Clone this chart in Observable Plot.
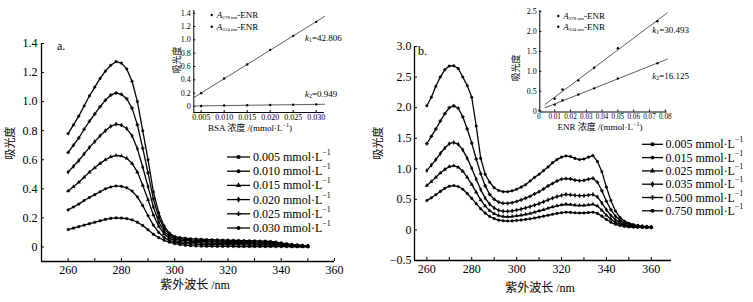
<!DOCTYPE html>
<html><head><meta charset="utf-8">
<script src="https://cdn.jsdelivr.net/npm/d3@7"></script>
<script src="https://cdn.jsdelivr.net/npm/@observablehq/plot@0.6"></script>
<style>
body{margin:0;background:#fff;}
#wrap{position:relative;width:753px;height:302px;overflow:hidden;background:#fff;}
#wrap svg{position:absolute;}
</style></head><body><div id="wrap"></div>
<script>
// ---------- DATA ----------
const wavelengthA = [260,262,264,266,268,270,272,274,276,278,280,282,284,286,288,290,292,294,296,298,300,302,304,306,308,310,312,314,316,318,320,322,324,326,328,330,332,334,336,338,340,342,344,346,348,350];
const concA = ["0.005","0.010","0.015","0.020","0.025","0.030"];
const absA_005 = [0.12,0.13,0.14,0.15,0.16,0.17,0.18,0.19,0.197,0.20,0.199,0.195,0.186,0.17,0.148,0.118,0.088,0.064,0.046,0.033,0.023,0.016,0.012,0.009,0.007,0.006,0.005,0.005,0.004,0.004,0.004,0.004,0.003,0.003,0.003,0.003,0.003,0.003,0.003,0.002,0.002,0.002,0.001,0.001,0.001,0.001];
const absA_010 = [0.255,0.275,0.295,0.32,0.34,0.36,0.38,0.40,0.413,0.42,0.417,0.407,0.385,0.345,0.285,0.215,0.15,0.10,0.066,0.045,0.033,0.027,0.023,0.021,0.019,0.018,0.017,0.016,0.016,0.015,0.015,0.014,0.014,0.014,0.013,0.013,0.013,0.012,0.012,0.011,0.009,0.007,0.006,0.005,0.004,0.003];
const absA_015 = [0.385,0.415,0.445,0.48,0.515,0.545,0.575,0.60,0.62,0.63,0.626,0.61,0.575,0.515,0.425,0.325,0.22,0.142,0.09,0.06,0.044,0.037,0.034,0.032,0.030,0.028,0.027,0.026,0.025,0.024,0.023,0.023,0.022,0.022,0.021,0.021,0.020,0.020,0.019,0.017,0.014,0.011,0.009,0.007,0.005,0.004];
const absA_020 = [0.515,0.555,0.595,0.64,0.685,0.725,0.765,0.80,0.83,0.845,0.838,0.815,0.765,0.675,0.55,0.415,0.275,0.172,0.108,0.072,0.054,0.047,0.044,0.041,0.039,0.037,0.036,0.035,0.034,0.033,0.032,0.031,0.030,0.030,0.029,0.028,0.027,0.027,0.025,0.023,0.019,0.015,0.012,0.009,0.007,0.006];
const absA_025 = [0.65,0.70,0.75,0.81,0.865,0.915,0.965,1.01,1.045,1.06,1.05,1.02,0.955,0.84,0.68,0.51,0.33,0.205,0.128,0.085,0.064,0.056,0.052,0.049,0.047,0.045,0.043,0.042,0.041,0.040,0.039,0.038,0.037,0.037,0.036,0.035,0.034,0.033,0.031,0.028,0.023,0.018,0.015,0.012,0.009,0.007];
const absA_030 = [0.78,0.84,0.90,0.97,1.04,1.10,1.16,1.21,1.25,1.275,1.265,1.225,1.14,1.00,0.80,0.60,0.38,0.235,0.145,0.095,0.072,0.064,0.060,0.057,0.055,0.053,0.051,0.050,0.049,0.048,0.047,0.046,0.045,0.044,0.043,0.042,0.041,0.040,0.038,0.034,0.028,0.022,0.018,0.014,0.011,0.009];

const wavelengthB = [260,262,264,266,268,270,272,274,276,278,280,282,284,286,288,290,292,294,296,298,300,302,304,306,308,310,312,314,316,318,320,322,324,326,328,330,332,334,336,338,340,342,344,346,348,350,352,354,356,358,360];
const concB = ["0.005","0.015","0.025","0.035","0.500","0.750"];
const absB_0015 = [0.48,0.525,0.575,0.63,0.68,0.715,0.725,0.71,0.665,0.595,0.515,0.43,0.345,0.275,0.22,0.185,0.16,0.15,0.145,0.148,0.155,0.162,0.172,0.182,0.195,0.21,0.225,0.24,0.255,0.27,0.28,0.29,0.287,0.28,0.277,0.277,0.283,0.29,0.27,0.225,0.17,0.125,0.092,0.071,0.058,0.05,0.046,0.043,0.041,0.039,0.038];
const absB_0025 = [0.725,0.79,0.86,0.93,0.99,1.035,1.05,1.025,0.96,0.86,0.745,0.615,0.49,0.39,0.315,0.265,0.235,0.22,0.215,0.22,0.23,0.24,0.255,0.27,0.29,0.31,0.33,0.355,0.375,0.395,0.41,0.42,0.415,0.405,0.40,0.40,0.41,0.42,0.39,0.32,0.24,0.175,0.125,0.093,0.073,0.062,0.054,0.049,0.046,0.043,0.041];
const absB_0035 = [0.97,1.06,1.15,1.25,1.34,1.41,1.43,1.40,1.31,1.17,1.01,0.83,0.66,0.52,0.42,0.36,0.32,0.305,0.305,0.31,0.325,0.34,0.36,0.38,0.405,0.43,0.46,0.49,0.52,0.545,0.565,0.58,0.575,0.565,0.56,0.56,0.57,0.58,0.54,0.44,0.33,0.235,0.165,0.12,0.092,0.075,0.064,0.057,0.052,0.048,0.045];
const absB_0500 = [1.41,1.53,1.65,1.78,1.90,2.00,2.03,1.99,1.85,1.65,1.42,1.16,0.92,0.72,0.58,0.50,0.455,0.435,0.435,0.445,0.465,0.49,0.52,0.55,0.59,0.625,0.67,0.72,0.76,0.80,0.83,0.84,0.835,0.815,0.805,0.81,0.83,0.845,0.78,0.64,0.47,0.33,0.225,0.16,0.12,0.095,0.078,0.066,0.058,0.052,0.048];
const absB_0750 = [2.03,2.17,2.35,2.50,2.62,2.68,2.685,2.64,2.50,2.36,2.17,1.70,1.17,0.91,0.78,0.69,0.645,0.625,0.625,0.64,0.665,0.70,0.74,0.80,0.86,0.91,0.97,1.03,1.10,1.15,1.19,1.21,1.20,1.17,1.15,1.16,1.19,1.215,1.12,0.95,0.70,0.48,0.31,0.205,0.145,0.11,0.085,0.07,0.06,0.053,0.05];

// inset a (BSA)
const bsaConc = [0.005,0.010,0.015,0.020,0.025,0.030];
const bsaA278 = [0.20,0.42,0.63,0.85,1.06,1.27];
const bsaA334 = [0.008,0.015,0.019,0.022,0.027,0.032];
const kA = ["42.806","0.949"];
// inset b (ENR)
const enrConc = [0.010,0.015,0.025,0.035,0.050,0.075];
const enrA278 = [0.31,0.54,0.77,1.09,1.58,2.26];
const enrA334 = [0.16,0.27,0.415,0.57,0.82,1.20];
const kB = ["30.493","16.125"];

// ticks
const xTicksMain = [260,280,300,320,340,360];
const xMinorMain = [270,290,310,330,350];
const yTicksA = [0,0.2,0.4,0.6,0.8,1.0,1.2,1.4];
const yTicksB = [-0.5,0,0.5,1.0,1.5,2.0,2.5,3.0];
const xTicksInA = [0.005,0.010,0.015,0.020,0.025,0.030];
const yTicksInA = [0,0.2,0.4,0.6,0.8,1.0,1.2,1.4];
const xTicksInB = [0,0.01,0.02,0.03,0.04,0.05,0.06,0.07,0.08];
const yTicksInB = [0,0.5,1.0,1.5,2.0,2.5];

// ---------- HELPERS ----------
const serif = "'Liberation Serif','Times New Roman',serif";
const cjk = "'Liberation Serif','Noto Sans CJK SC',serif";
const fmtY = d => d === 0 ? "0" : d.toFixed(1).replace("-", "\u2212");
const symbolsA = ["square","circle","triangle","diamond","cross","circle"];
const symbolsB = ["square","circle","triangle","diamond","cross","circle"];
const noLabel = () => "";

function tidy(xs, ys, s) { return xs.map((x, i) => ({x, y: ys[i], s})); }
function fit(xs, ys) {
  const mx = d3.mean(xs), my = d3.mean(ys);
  const sxy = d3.sum(xs, (x, i) => (x - mx) * (ys[i] - my));
  const sxx = d3.sum(xs, x => (x - mx) ** 2);
  const b = sxy / sxx; return {b, a: my - b * mx};
}
function fitLine(xs, ys, ext) {
  const {a, b} = fit(xs, ys);
  return ext.map(x => ({x, y: a + b * x}));
}
const wrap = document.getElementById("wrap");
function place(svg, left, top) { svg.style.left = left + "px"; svg.style.top = top + "px"; wrap.appendChild(svg); }

// ---------- MAIN A ----------
const seriesA = [absA_005, absA_010, absA_015, absA_020, absA_025, absA_030];
const marksA = [];
seriesA.forEach((ys, i) => {
  const d = tidy(wavelengthA, ys, concA[i]);
  marksA.push(Plot.line(d, {x: "x", y: "y", stroke: "black", strokeWidth: 1.3}));
  marksA.push(Plot.dot(d, {x: "x", y: "y", symbol: () => symbolsA[i], r: 1.3, fill: "black", stroke: "black", strokeWidth: 0.4}));
});
const xDomA = [250, 360], yDomA = [-0.1, 1.4];
place(Plot.plot({
  width: 376, height: 302, marginLeft: 41, marginRight: 42, marginTop: 43, marginBottom: 41,
  x: {domain: xDomA}, y: {domain: yDomA},
  style: {background: "transparent", fontFamily: serif, fontSize: "12px", color: "black"},
  marks: [
    Plot.axisX({ticks: xTicksMain, tickSize: -3, tickPadding: 7, tickFormat: d => String(d), label: null}),
    Plot.axisX({ticks: xMinorMain, tickSize: -3, tickFormat: noLabel, label: null}),
    Plot.axisY({ticks: yTicksA, tickSize: -3, tickPadding: 7, tickFormat: fmtY, label: null}),
    Plot.ruleY([yDomA[0]], {stroke: "black", strokeWidth: 1.3}),
    Plot.ruleX([xDomA[0]], {stroke: "black", strokeWidth: 1.3}),
    ...marksA
  ]
}), 0, 0);

// ---------- MAIN B ----------
const seriesB = [absB_0015, absB_0025, absB_0035, absB_0500, absB_0750];
const marksB = [];
seriesB.forEach((ys, i) => {
  const d = tidy(wavelengthB, ys, concB[i + 1]);
  marksB.push(Plot.line(d, {x: "x", y: "y", stroke: "black", strokeWidth: 1.3}));
  marksB.push(Plot.dot(d, {x: "x", y: "y", symbol: () => symbolsB[i + 1], r: 1.3, fill: "black", stroke: "black", strokeWidth: 0.4}));
});
const xDomB = [254.5, 369], yDomB = [-0.5, 3.0];
place(Plot.plot({
  width: 377, height: 302, marginLeft: 38, marginRight: 82, marginTop: 46, marginBottom: 42,
  x: {domain: xDomB}, y: {domain: yDomB},
  style: {background: "transparent", fontFamily: serif, fontSize: "12px", color: "black"},
  marks: [
    Plot.axisX({ticks: xTicksMain, tickSize: -3, tickPadding: 7, tickFormat: d => String(d), label: null}),
    Plot.axisX({ticks: xMinorMain, tickSize: -3, tickFormat: noLabel, label: null}),
    Plot.axisY({ticks: yTicksB, tickSize: -3, tickPadding: 6, tickFormat: fmtY, label: null}),
    Plot.ruleY([yDomB[0]], {stroke: "black", strokeWidth: 1.3}),
    Plot.ruleX([xDomB[0]], {stroke: "black", strokeWidth: 1.3}),
    ...marksB
  ]
}), 376, 0);

// ---------- INSET A ----------
const xDomIA = [0.0034, 0.0318], yDomIA = [-0.09, 1.44];
place(Plot.plot({
  width: 170, height: 135, marginLeft: 23.3, marginRight: 16, marginTop: 10, marginBottom: 23,
  x: {domain: xDomIA}, y: {domain: yDomIA},
  style: {background: "transparent", fontFamily: serif, fontSize: "8px", color: "black"},
  marks: [
    Plot.axisX({ticks: xTicksInA, tickSize: -2, tickPadding: 4, tickFormat: d => d.toFixed(3), label: null}),
    Plot.axisY({ticks: yTicksInA, tickSize: -2, tickPadding: 5, tickFormat: fmtY, label: null}),
    Plot.ruleY([yDomIA[0]], {stroke: "black", strokeWidth: 1}),
    Plot.ruleX([xDomIA[0]], {stroke: "black", strokeWidth: 1}),
    Plot.line(fitLine(bsaConc, bsaA278, xDomIA), {x: "x", y: "y", stroke: "#333", strokeWidth: 0.8}),
    Plot.line(fitLine(bsaConc, bsaA334, xDomIA), {x: "x", y: "y", stroke: "#333", strokeWidth: 0.8}),
    Plot.dot(bsaConc.map((x, i) => ({x, y: bsaA278[i]})), {x: "x", y: "y", r: 1.2, fill: "black"}),
    Plot.dot(bsaConc.map((x, i) => ({x, y: bsaA334[i]})), {x: "x", y: "y", r: 1.2, fill: "black"})
  ]
}), 170, 0);

// ---------- INSET B ----------
const xDomIB = [0.0006, 0.0812], yDomIB = [-0.025, 2.53];
const fitExtB = [0.004, xDomIB[1]];
place(Plot.plot({
  width: 170, height: 135, marginLeft: 29.3, marginRight: 13.3, marginTop: 10, marginBottom: 23.5,
  x: {domain: xDomIB}, y: {domain: yDomIB},
  style: {background: "transparent", fontFamily: serif, fontSize: "8px", color: "black"},
  marks: [
    Plot.axisX({ticks: xTicksInB, tickSize: -2, tickPadding: 4, fontSize: 7.2, tickFormat: d => d === 0 ? "0" : d.toFixed(2), label: null}),
    Plot.axisY({ticks: yTicksInB, tickSize: -2, tickPadding: 5, tickFormat: fmtY, label: null}),
    Plot.ruleY([yDomIB[0]], {stroke: "black", strokeWidth: 1}),
    Plot.ruleX([xDomIB[0]], {stroke: "black", strokeWidth: 1}),
    Plot.line(fitLine(enrConc, enrA278, fitExtB), {x: "x", y: "y", stroke: "#333", strokeWidth: 0.8}),
    Plot.line(fitLine(enrConc, enrA334, fitExtB), {x: "x", y: "y", stroke: "#333", strokeWidth: 0.8}),
    Plot.dot(enrConc.map((x, i) => ({x, y: enrA278[i]})), {x: "x", y: "y", r: 1.2, fill: "black"}),
    Plot.dot(enrConc.map((x, i) => ({x, y: enrA334[i]})), {x: "x", y: "y", r: 1.2, fill: "black"})
  ]
}), 510, 0);

// ---------- OVERLAY TEXT / LEGENDS ----------
const ov = d3.create("svg").attr("width", 753).attr("height", 302)
  .style("left", "0px").style("top", "0px").style("font-family", serif);
function txt(x, y, s, size, opts = {}) {
  const t = ov.append("text").attr("x", x).attr("y", y).attr("font-size", size)
    .attr("text-anchor", opts.anchor || "start").attr("dominant-baseline", "central")
    .attr("font-family", opts.font || serif).text(s);
  if (opts.rotate) t.attr("transform", `rotate(-90,${x},${y})`);
  return t;
}
txt(57, 46, "a.", 12);
txt(418, 51, "b.", 12);
txt(10, 143, "吸光度", 11, {anchor: "middle", rotate: true, font: cjk});
txt(378, 143, "吸光度", 11, {anchor: "middle", rotate: true, font: cjk});
txt(195, 285, "紫外波长 /nm", 12, {anchor: "middle", font: cjk});
txt(540, 288, "紫外波长 /nm", 12, {anchor: "middle", font: cjk});

function legendRow(x0, x1, tx, y, label, sym) {
  ov.append("line").attr("x1", x0).attr("x2", x1).attr("y1", y).attr("y2", y).attr("stroke", "black").attr("stroke-width", 1.3);
  ov.append("path").attr("d", d3.symbol(sym, 12)()).attr("transform", `translate(${(x0 + x1) / 2},${y})`).attr("fill", "black");
  const t = txt(tx, y, label + " mmol\u00b7L", 12);
  t.append("tspan").attr("font-size", 8).attr("dy", -5).text("\u22121");
}
const d3sym = {square: d3.symbolSquare, circle: d3.symbolCircle, triangle: d3.symbolTriangle, diamond: d3.symbolDiamond, cross: d3.symbolCross, star: d3.symbolStar};
concA.forEach((c, i) => legendRow(227, 250, 253, 157 + 14.2 * i, c, d3sym[symbolsA[i]]));
concB.forEach((c, i) => legendRow(642, 663, 665.5, 144.3 + 13.3 * i, c, d3sym[symbolsB[i]]));

// inset labels
function insetXLabel(x, y, s) {
  const t = txt(x, y, s + " /(mmol\u00b7L", 9, {anchor: "middle", font: cjk});
  t.append("tspan").attr("font-size", 6).attr("dy", -3).text("\u22121");
  t.append("tspan").attr("dy", 3).text(")");
}
txt(177, 60, "吸光度", 9, {anchor: "middle", rotate: true, font: cjk});
insetXLabel(250, 127.5, "BSA 浓度");
txt(516, 68, "吸光度", 9, {anchor: "middle", rotate: true, font: cjk});
insetXLabel(600, 127, "ENR 浓度");

function insetLegend(xd, y, wl) {
  ov.append("circle").attr("cx", xd).attr("cy", y).attr("r", 1.2).attr("fill", "black");
  const t = ov.append("text").attr("x", xd + 5).attr("y", y).attr("dominant-baseline", "central").attr("font-size", 9);
  t.append("tspan").attr("font-style", "italic").text("A");
  t.append("tspan").attr("font-size", 5).attr("dy", 2).text(wl + " nm");
  t.append("tspan").attr("dy", -2).text("-ENR");
}
insetLegend(211.7, 15, "278"); insetLegend(211.7, 26.7, "334");
insetLegend(558.3, 16, "278"); insetLegend(558.3, 26.7, "334");

function kLabel(x, y, n, v) {
  const t = ov.append("text").attr("x", x).attr("y", y).attr("dominant-baseline", "central").attr("font-size", 9);
  t.append("tspan").attr("font-style", "italic").text("k");
  t.append("tspan").attr("font-size", 6).attr("dy", 2).text(n);
  t.append("tspan").attr("dy", -2).text("=" + v);
}
kLabel(305, 38.3, "1", kA[0]); kLabel(305, 94, "2", kA[1]);
kLabel(652.3, 29.5, "1", kB[0]); kLabel(652.3, 75.5, "2", kB[1]);

wrap.appendChild(ov.node());
</script></body></html>
